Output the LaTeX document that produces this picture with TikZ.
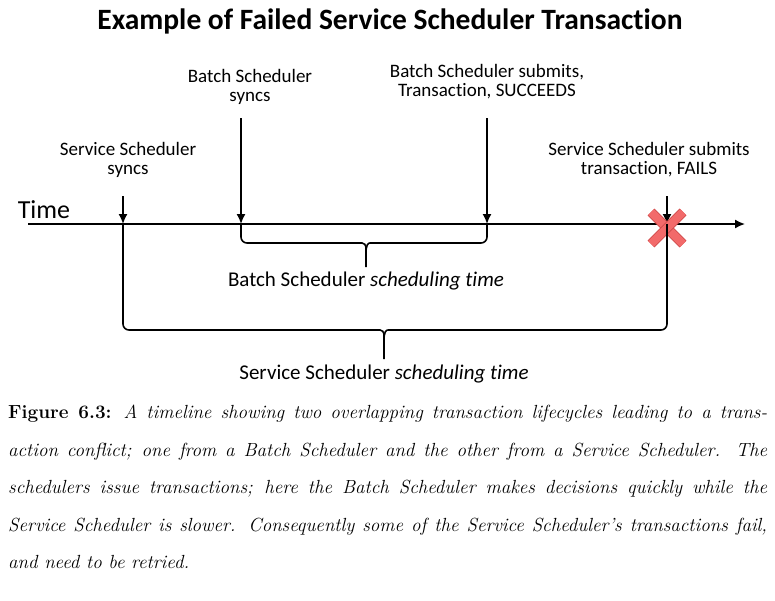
\documentclass[tikz,border=0pt]{standalone}
\usepackage{fontspec}
\newfontfamily\carlito[Ligatures=NoCommon]{Carlito}
\usetikzlibrary{arrows.meta,positioning,calc}
\definecolor{crossred}{HTML}{F26A6A}
\definecolor{crossedge}{HTML}{D04C4C}

\begin{document}
\begin{tikzpicture}[x=1pt,y=-1pt]
			\tikzstyle{event} = [font=\carlito\fontsize{19}{19}\selectfont, align=center, inner sep=0pt]
			\tikzstyle{spantext} = [font=\carlito\fontsize{21}{21}\selectfont, inner sep=0pt]
			\tikzstyle{arrow} = [draw, line width=1.6pt, -{Latex[length=10pt,width=9pt]}]
			\tikzstyle{brace} = [draw, line width=1.6pt, rounded corners=6pt]
			\tikzstyle{failmark} = [draw=crossedge, line width=0.8pt, double=crossred, double distance=8pt]
			\tikzstyle{figcaption} = [text width=759pt, align=justify, inner sep=0pt, font=\fontsize{19}{37.5}\selectfont]

			\useasboundingbox (0,0) rectangle (775,600);

			\node [font=\carlito\bfseries\fontsize{29.5}{29.5}\selectfont, inner sep=0pt] (title) at (390,21) {Example of Failed Service Scheduler Transaction};

			% time axis
			\node [font=\carlito\fontsize{26}{26}\selectfont, inner sep=0pt] (time) at (44,210) {Time};
			\coordinate (t0) at (28,224);
			\coordinate (t1) at (745,224);
			\path[arrow] (t0) -- (t1);

			% events on the axis
			\coordinate (ss) at (123,224);
			\coordinate (bs) at (241,224);
			\coordinate (bsok) at (487,224);
			\coordinate (ssfail) at (667,224);
			\coordinate (ss0) at (123,196);
			\coordinate (bs0) at (241,118);
			\coordinate (bsok0) at (487,118);
			\coordinate (ssfail0) at (667,196);

			\node [event] (sssync) at (128,160) {Service Scheduler\\syncs};
			\node [event] (bssync) at (250,87) {Batch Scheduler\\syncs};
			\node [event] (bssub) at (487,82) {Batch Scheduler submits,\\Transaction, SUCCEEDS};
			\node [event] (sssub) at (649,160) {Service Scheduler submits\\transaction, FAILS};

			\path[arrow] (ss0) -- (ss);
			\path[arrow] (bs0) -- (bs);
			\path[arrow] (bsok0) -- (bsok);
			\path[arrow] (ssfail0) -- (ssfail);

			% failed transaction
			\coordinate (xmark) at (667,228);
			\path[failmark] ($(xmark)+(-16,-16)$) -- ($(xmark)+(16,16)$);
			\path[failmark] ($(xmark)+(-16,16)$) -- ($(xmark)+(16,-16)$);

			% scheduling times
			\coordinate (bstip) at (366,243);
			\coordinate (bsend) at (366,267);
			\path[brace] (bs) -- (bs |- bstip) -- ($(bstip)+(-10,0)$) .. controls ($(bstip)+(-2,0)$) and ($(bstip)+(0,2)$) .. ($(bstip)+(0,10)$) -- (bsend);
			\path[brace] (bsok) -- (bsok |- bstip) -- ($(bstip)+(10,0)$) .. controls ($(bstip)+(2,0)$) and ($(bstip)+(0,2)$) .. ($(bstip)+(0,10)$);
			\node [spantext, below=5pt of bsend] (bstime) {Batch Scheduler \textit{scheduling time}};

			\coordinate (sstip) at (384,330);
			\coordinate (ssend) at (384,359);
			\path[brace] (ss) -- (ss |- sstip) -- ($(sstip)+(-10,0)$) .. controls ($(sstip)+(-2,0)$) and ($(sstip)+(0,2)$) .. ($(sstip)+(0,10)$) -- (ssend);
			\path[brace] (ssfail) -- (ssfail |- sstip) -- ($(sstip)+(10,0)$) .. controls ($(sstip)+(2,0)$) and ($(sstip)+(0,2)$) .. ($(sstip)+(0,10)$);
			\node [spantext, below=6pt of ssend] (sstime) {Service Scheduler \textit{scheduling time}};

			% caption
			\node [figcaption, anchor=north west] (cap) at (8,405) {\textbf{Figure 6.3:} \textit{A timeline showing two overlapping transaction lifecycles leading to a trans-\linebreak action conflict; one from a Batch Scheduler and the other from a Service Scheduler. The\linebreak schedulers issue transactions; here the Batch Scheduler makes decisions quickly while the\linebreak Service Scheduler is slower. Consequently some of the Service Scheduler's transactions fail,\linebreak and need to be retried.}};
		\end{tikzpicture}
\end{document}
